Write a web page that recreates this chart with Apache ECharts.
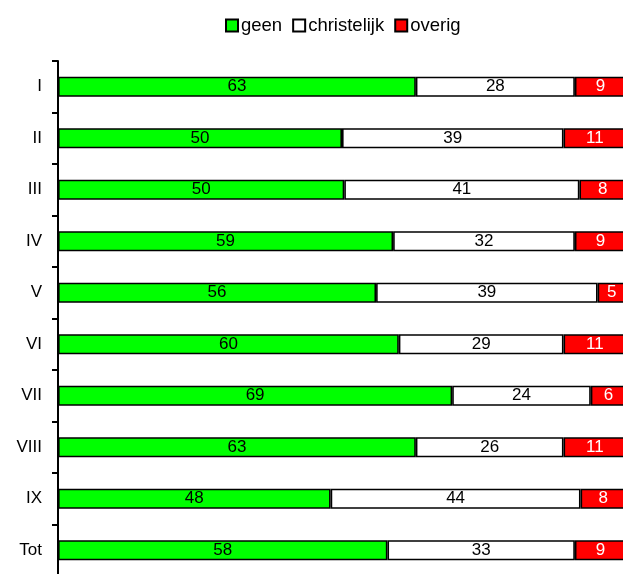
<!DOCTYPE html>
<html>
<head>
<meta charset="utf-8">
<script src="https://cdn.jsdelivr.net/npm/echarts@6/dist/echarts.min.js"></script>
<style>
html,body{margin:0;padding:0;background:#fff;overflow:hidden;width:623px;height:574px;}
#chart{width:626px;height:578px;}
</style>
</head>
<body>
<div id="chart"></div>
<script>
var categories = ['I','II','III','IV','V','VI','VII','VIII','IX','Tot'];
var geen = [63,50,50.4,59,56,60,69.4,63,48,58];
var christelijk = [28,39,41.4,32,39,29,24.4,26,44,33];
var overig = [9,11,8.2,9,5,11,6.2,11,8,9];

var FONT = "'Liberation Sans', Arial, sans-serif";
var chart = echarts.init(document.getElementById('chart'), null, {renderer:'canvas'});

function mk(name, data, color, labelColor) {
  return {
    name: name,
    type: 'bar',
    stack: 'total',
    data: data,
    barWidth: 20,
    itemStyle: {color: color, borderColor: '#000', borderWidth: 1.6},
    label: {
      show: true, position: 'inside', color: labelColor,
      fontFamily: FONT, fontSize: 17,
      formatter: function (p) { return Math.round(p.value); }
    },
    emphasis: {disabled: true},
    animation: false
  };
}

chart.setOption({
  animation: false,
  legend: {
    top: 11, left: 220, icon: 'rect',
    itemWidth: 12, itemHeight: 12, itemGap: 10,
    textStyle: {fontFamily: FONT, fontSize: 18.5, color: '#000', padding: [0,0,0,-2]},
    data: ['geen','christelijk','overig']
  },
  grid: {left: 58, right: 0, top: 61, bottom: 2, containLabel: false, outerBoundsMode: 'none'},
  xAxis: {
    type: 'value', min: 0, max: 100, show: false
  },
  yAxis: {
    type: 'category', inverse: true, data: categories,
    axisLine: {show: true, lineStyle: {color: '#000', width: 2}},
    axisTick: {show: true, inside: false, length: 6, lineStyle: {color: '#000', width: 2}},
    axisLabel: {fontFamily: FONT, fontSize: 17, color: '#000', margin: 16}
  },
  series: [
    mk('geen', geen, '#00ff00', '#000'),
    mk('christelijk', christelijk, '#ffffff', '#000'),
    mk('overig', overig, '#ff0000', '#fff')
  ]
});
</script>
</body>
</html>
